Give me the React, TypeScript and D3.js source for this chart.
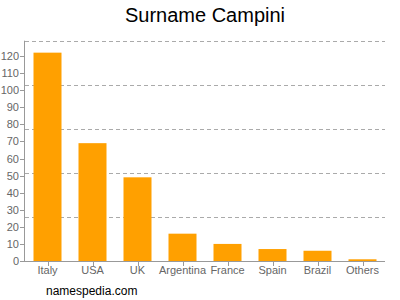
import React from "react";
import * as d3 from "d3";

const categories = ["Italy", "USA", "UK", "Argentina", "France", "Spain", "Brazil", "Others"];
const values = [122, 69, 49, 16, 10, 7, 6, 1];
const yTicks = [0, 10, 20, 30, 40, 50, 60, 70, 80, 90, 100, 110, 120];
const yMax = 129;
const gridValues = [1, 2, 3, 4, 5].map((i) => (yMax * i) / 5);

export default function App() {
  const W = 400, H = 300;
  const left = 25, right = 385, top = 40.7, bottom = 261;
  const x = d3.scaleBand<string>().domain(categories).range([left, right]).paddingInner(17 / 45).paddingOuter(8.5 / 45);
  const y = d3.scaleLinear().domain([0, yMax]).range([bottom, top]);
  const font = "'Liberation Sans', Arial, sans-serif";
  return (
    <svg width={W} height={H} style={{ position: "absolute", left: 0, top: 0 }} fontFamily={font}>
      <rect width={W} height={H} fill="#fff" />
      <text x={205} y={22} textAnchor="middle" fontSize={20} fill="#000">Surname Campini</text>
      {gridValues.map((g, i) => (
        <line key={i} x1={left} x2={right} y1={Math.round(y(g)) + 0.5} y2={Math.round(y(g)) + 0.5} stroke="#aaa" strokeDasharray="4,3" />
      ))}
      {categories.map((c, i) => (
        <rect key={c} x={x(c)} y={y(values[i])} width={x.bandwidth()} height={bottom - y(values[i])} fill="#FFA000" />
      ))}
      <line x1={left - 0.5} x2={left - 0.5} y1={top} y2={bottom} stroke="#999" />
      <line x1={left} x2={right} y1={bottom + 0.5} y2={bottom + 0.5} stroke="#999" />
      {yTicks.map((t) => (
        <g key={t}>
          <line x1={left - 5} x2={left} y1={Math.round(y(t)) + 0.5} y2={Math.round(y(t)) + 0.5} stroke="#999" />
          <text x={left - 6} y={y(t) + 4} textAnchor="end" fontSize={11} fill="#666">{t}</text>
        </g>
      ))}
      {categories.map((c) => (
        <g key={c}>
          <line x1={Math.round(x(c)! + x.bandwidth() / 2) + 0.5} x2={Math.round(x(c)! + x.bandwidth() / 2) + 0.5} y1={bottom} y2={bottom + 5} stroke="#999" />
          <text x={x(c)! + x.bandwidth() / 2} y={274} textAnchor="middle" fontSize={11} fill="#666">{c}</text>
        </g>
      ))}
      <text x={46} y={295} fontSize={12} fill="#000">namespedia.com</text>
    </svg>
  );
}
